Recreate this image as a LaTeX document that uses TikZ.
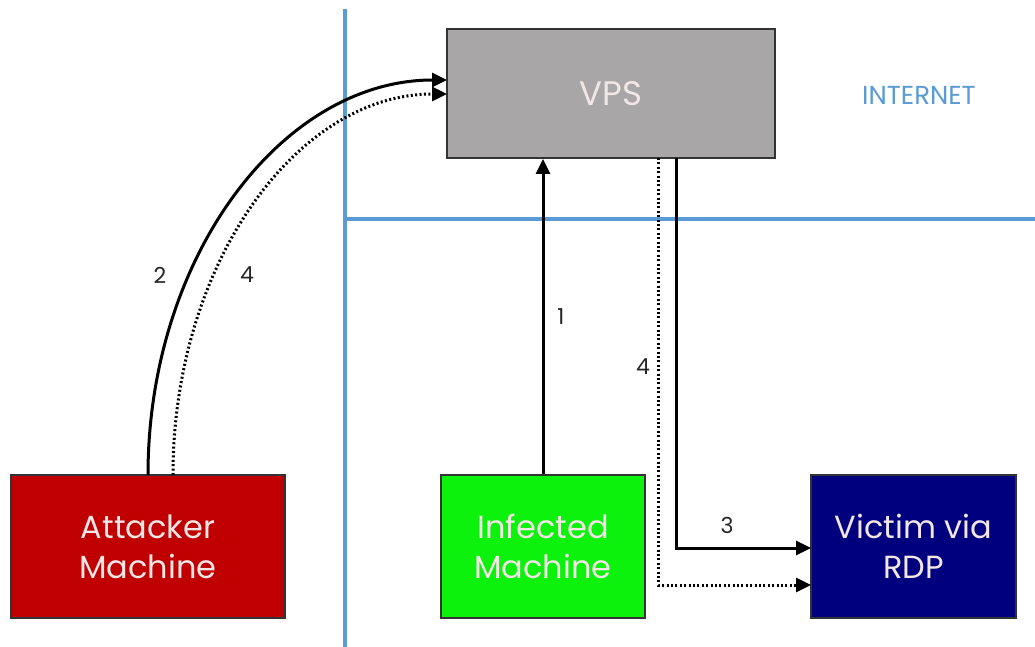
\documentclass[tikz,border=0pt]{standalone}
\usepackage{fontspec}
\setmainfont{Poppins}
\usetikzlibrary{arrows.meta}
\definecolor{netblue}{HTML}{5B9BD5}
\definecolor{vpsgray}{HTML}{A8A6A6}
\definecolor{attred}{HTML}{C00000}
\definecolor{infgreen}{HTML}{0CF20C}
\definecolor{vicnavy}{HTML}{00007F}
\definecolor{boxtext}{HTML}{F2E6E6}
\tikzset{
  box/.style={draw=black!80, line width=2pt, minimum width=#1, inner sep=0pt,
    align=center, text=boxtext, font=\fontsize{32}{40}\selectfont},
  flow/.style={line width=3pt, -{Triangle[length=15pt,width=14pt]}},
  dotflow/.style={flow, line width=3pt, dash pattern=on 2pt off 2.4pt},
  netline/.style={netblue, line width=3.6pt},
  num/.style={font=\fontsize{22}{26}\selectfont, text=black!85},
}
\begin{document}
\begin{tikzpicture}[x=1pt,y=-1pt]
\useasboundingbox[fill=white] (0,0) rectangle (1035,647);
% network boundaries
\coordinate (vtop) at (345,9);
\coordinate (vbot) at (345,647);
\coordinate (hright) at (1035,219);
\draw[netline] (vtop) -- (vbot);
\draw[netline] (vtop |- hright) -- (hright);
\node[text=netblue, font=\fontsize{26}{30}\selectfont] (inet) at (919,95) {INTERNET};
% boxes
\node[box=328pt, minimum height=129pt, fill=vpsgray, font=\fontsize{34}{40}\selectfont] (vps) at (611,93.5) {VPS};
\node[box=274pt, minimum height=143pt, fill=attred] (att) at (148,546.5) {Attacker\\Machine};
\node[box=204pt, minimum height=143pt, fill=infgreen] (inf) at (543,546.5) {Infected\\Machine};
\node[box=205pt, minimum height=143pt, fill=vicnavy] (vic) at (913.5,546.5) {Victim via\\RDP};
% helper coordinates
\coordinate (a2) at (148,475);
\coordinate (a4) at (173,475);
\coordinate (v2) at (447,80);
\coordinate (v4) at (447,94);
\coordinate (s3) at (676,158);
\coordinate (s4) at (658,158);
\coordinate (t3) at (811,548);
\coordinate (t4) at (811,585);
% arrow 1
\draw[flow] (inf.north) -- (inf.north |- vps.south);
% arrows 2 and 4 (attacker to VPS)
\draw[flow] (a2) .. controls (148,257) and (282,80) .. (v2);
\draw[dotflow] (a4) .. controls (173,265) and (296,94) .. (v4);
% arrows 3 and 4 (VPS to victim)
\draw[flow] (s3) |- (t3);
\draw[dotflow] (s4) |- (t4);
% labels
\node[num] (l2) at (160,275) {2};
\node[num] (l4a) at (247,275) {4};
\node[num] (l1) at (561,317) {1};
\node[num] (l4b) at (643,367) {4};
\node[num] (l3) at (727,525) {3};
\end{tikzpicture}
\end{document}
